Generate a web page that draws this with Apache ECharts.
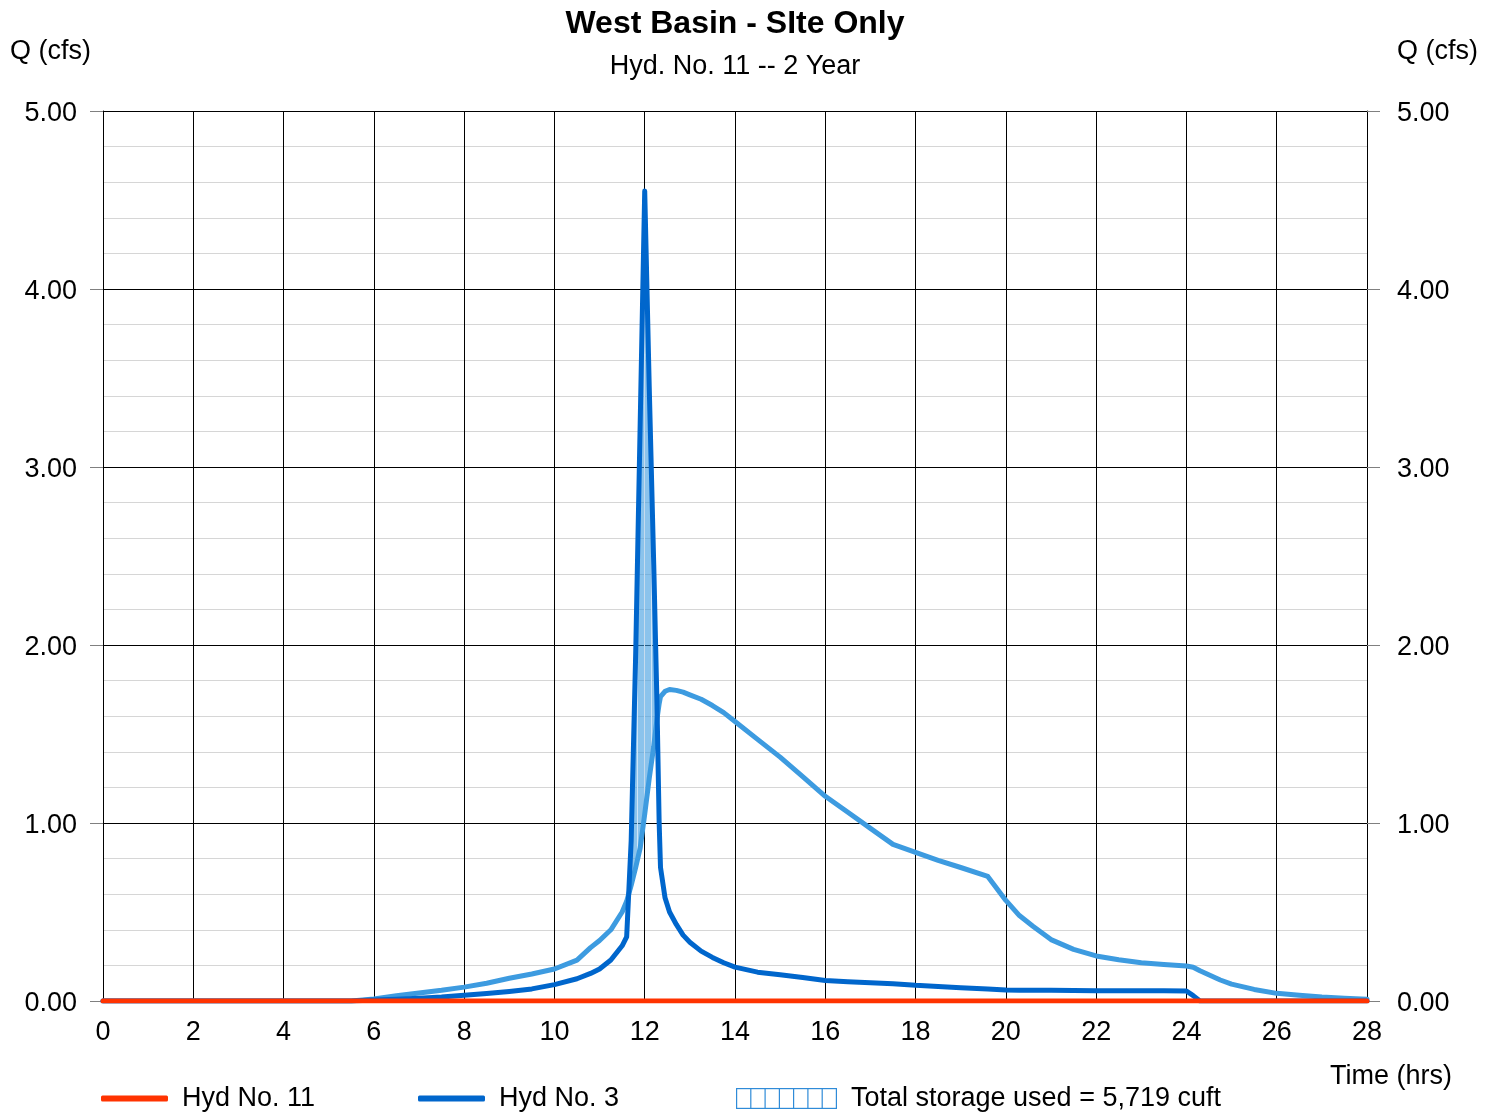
<!DOCTYPE html>
<html>
<head>
<meta charset="utf-8">
<title>West Basin - SIte Only</title>
<script src="https://cdn.jsdelivr.net/npm/echarts@6/dist/echarts.min.js"></script>
<style>
  html, body { margin: 0; padding: 0; background: #fff; }
  #chart { width: 1497px; height: 1112px; }
</style>
</head>
<body>
<div id="chart"></div>
<script>
const FONT = '"Liberation Sans", Arial, Helvetica, sans-serif';

// time (hrs) shared by both blue hydrographs
const hours = [
  0, 5.5, 6, 6.5, 7, 7.5, 8, 8.5, 9, 9.5,
  10, 10.5, 10.8, 11, 11.25, 11.5, 11.6, 11.7, 11.8, 11.9,
  12.0, 12.1, 12.2, 12.27, 12.32, 12.35, 12.45, 12.55, 12.7, 12.85,
  13, 13.25, 13.5, 13.75, 14, 14.5, 15, 15.5, 16, 16.5,
  17, 17.5, 18, 18.5, 19, 19.6, 20, 20.3, 20.6, 21,
  21.5, 22, 22.5, 23, 23.5, 24, 24.15, 24.3, 24.75, 25,
  25.5, 26, 26.5, 27, 27.5, 28
];

// Hyd No. 3 (dark blue)
const hyd3Flow = [
  0, 0, 0.005, 0.01, 0.016, 0.022, 0.032, 0.042, 0.054, 0.068,
  0.092, 0.125, 0.155, 0.18, 0.23, 0.31, 0.36, 0.9, 1.95, 3.25,
  4.55, 3.45, 2.45, 1.69, 1.0, 0.75, 0.58, 0.5, 0.43, 0.37,
  0.33, 0.28, 0.245, 0.215, 0.19, 0.162, 0.148, 0.132, 0.115, 0.108,
  0.102, 0.097, 0.088, 0.082, 0.075, 0.068, 0.062, 0.061, 0.06, 0.06,
  0.059, 0.058, 0.058, 0.057, 0.057, 0.056, 0.03, 0, 0, 0,
  0, 0, 0, 0, 0, 0
];

// light blue hydrograph
const routedFlow = [
  0, 0, 0.012, 0.03, 0.045, 0.06, 0.078, 0.1, 0.128, 0.152,
  0.18, 0.23, 0.3, 0.34, 0.4, 0.5, 0.56, 0.65, 0.75, 0.86,
  1.05, 1.25, 1.43, 1.58, 1.67, 1.71, 1.74, 1.75, 1.745, 1.735,
  1.72, 1.695, 1.66, 1.62, 1.57, 1.47, 1.37, 1.26, 1.15, 1.06,
  0.97, 0.88, 0.835, 0.79, 0.75, 0.7, 0.565, 0.48, 0.42, 0.345,
  0.29, 0.253, 0.232, 0.215, 0.205, 0.197, 0.19, 0.17, 0.118, 0.095,
  0.065, 0.043, 0.032, 0.022, 0.015, 0.01
];

// Hyd No. 11 (red) stays at zero
const hyd11Hours = [0, 28];
const hyd11Flow = [0, 0];

const STORAGE_LABEL = 'Total storage used = 5,719 cuft';

const pairs = (xs, ys) => xs.map((x, i) => [x, ys[i]]);

// outline of the band where Hyd No. 3 is above the light curve
const storageOutline = () => {
  const upper = [];
  const lower = [];

  for (let i = 0; i < hours.length - 1; i++) {
    const d0 = hyd3Flow[i] - routedFlow[i];
    const d1 = hyd3Flow[i + 1] - routedFlow[i + 1];

    if (d0 > 0) {
      upper.push([hours[i], hyd3Flow[i]]);
      lower.push([hours[i], routedFlow[i]]);
    }
    if ((d0 > 0) !== (d1 > 0)) {
      const f = d0 / (d0 - d1);
      const t = hours[i] + f * (hours[i + 1] - hours[i]);
      const q = hyd3Flow[i] + f * (hyd3Flow[i + 1] - hyd3Flow[i]);
      upper.push([t, q]);
      lower.push([t, q]);
    }
  }

  return upper.concat(lower.reverse());
};

const hatchFill = (() => {
  const c = document.createElement('canvas');
  c.width = 7;
  c.height = 10;
  const g = c.getContext('2d');
  g.fillStyle = 'rgba(61, 155, 224, 0.6)';
  g.fillRect(0, 0, 7, 10);
  g.fillStyle = 'rgba(215, 233, 250, 0.9)';
  g.fillRect(0, 0, 1, 10);
  return { image: c, repeat: 'repeat' };
})();

const hatchIcon = (() => {
  let lines = '';
  for (let k = 1; k < 7; k++) {
    const x = (0.5 + k * 100 / 7).toFixed(1);
    lines += `<line x1="${x}" y1="0" x2="${x}" y2="21" stroke="#2f8bd8" stroke-width="1.2"/>`;
  }
  const svg = '<svg xmlns="http://www.w3.org/2000/svg" width="101" height="21" viewBox="0 0 101 21">'
    + '<rect x="0.6" y="0.6" width="99.8" height="19.8" fill="#ffffff" stroke="#2f8bd8" stroke-width="1.2"/>'
    + lines + '</svg>';
  return 'image://data:image/svg+xml;charset=utf-8,' + encodeURIComponent(svg);
})();

const chartInstance = echarts.init(document.getElementById('chart'), null, { renderer: 'canvas' });

const labelStyle = { color: '#000', fontSize: 27, fontFamily: FONT };

const yAxisBase = {
  type: 'value',
  min: 0,
  max: 5,
  interval: 1,
  // thin line box hung from the tick so the digits sit a touch lower
  axisLabel: { ...labelStyle, verticalAlign: 'top', lineHeight: 5, formatter: (v) => v.toFixed(2) },
  axisTick: { show: true, inside: false, length: 13, lineStyle: { color: '#808080', width: 1 } },
  axisLine: { show: true, lineStyle: { color: '#000', width: 1 } },
  minorTick: { show: false, splitNumber: 5 },
  minorSplitLine: { show: true, lineStyle: { color: '#d6d6d6', width: 1 } }
};

const legendBase = {
  orient: 'horizontal',
  top: 1085,
  selectedMode: false,
  itemGap: 0,
  padding: 0,
  textStyle: { ...labelStyle, padding: [3, 0, 0, 9] }
};

chartInstance.setOption({
  animation: false,
  backgroundColor: '#fff',
  textStyle: { fontFamily: FONT },
  grid: { left: 103, right: 130, top: 111, bottom: 111, containLabel: false, outerBoundsMode: 'none' },
  xAxis: {
    type: 'value',
    min: 0,
    max: 28,
    interval: 2,
    axisLabel: { ...labelStyle, margin: 18 },
    axisTick: { show: false },
    axisLine: { show: true, lineStyle: { color: '#000', width: 1 } },
    splitLine: { show: true, lineStyle: { color: '#000', width: 1 } }
  },
  yAxis: [
    {
      ...yAxisBase,
      position: 'left',
      axisLabel: { ...yAxisBase.axisLabel, margin: 26 },
      splitLine: { show: true, lineStyle: { color: '#000', width: 1 } }
    },
    {
      ...yAxisBase,
      position: 'right',
      axisLabel: { ...yAxisBase.axisLabel, margin: 30 },
      splitLine: { show: false },
      minorSplitLine: { show: false }
    }
  ],
  legend: [
    {
      ...legendBase,
      left: 101,
      itemWidth: 67,
      itemHeight: 6,
      data: [{ name: 'Hyd No. 11', icon: 'roundRect', itemStyle: { color: '#ff3300' } }]
    },
    {
      ...legendBase,
      left: 418,
      itemWidth: 67,
      itemHeight: 6,
      data: [{ name: 'Hyd No. 3', icon: 'roundRect', itemStyle: { color: '#0066cc' } }]
    },
    {
      ...legendBase,
      left: 736,
      itemWidth: 101,
      itemHeight: 21,
      data: [{ name: STORAGE_LABEL, icon: hatchIcon }]
    }
  ],
  graphic: [
    {
      type: 'text', x: 735, y: 24,
      style: { text: 'West Basin - SIte Only', font: `bold 32px ${FONT}`, fill: '#000', align: 'center', verticalAlign: 'middle' }
    },
    {
      type: 'text', x: 735, y: 67,
      style: { text: 'Hyd. No. 11 -- 2 Year', font: `27px ${FONT}`, fill: '#000', align: 'center', verticalAlign: 'middle' }
    },
    {
      type: 'text', x: 10, y: 52,
      style: { text: 'Q (cfs)', font: `27px ${FONT}`, fill: '#000', align: 'left', verticalAlign: 'middle' }
    },
    {
      type: 'text', x: 1397, y: 52,
      style: { text: 'Q (cfs)', font: `27px ${FONT}`, fill: '#000', align: 'left', verticalAlign: 'middle' }
    },
    {
      type: 'text', x: 1452, y: 1077,
      style: { text: 'Time (hrs)', font: `27px ${FONT}`, fill: '#000', align: 'right', verticalAlign: 'middle' }
    }
  ],
  series: [
    {
      type: 'custom',
      name: STORAGE_LABEL,
      coordinateSystem: 'cartesian2d',
      data: [[12, 2]],
      z: 1,
      silent: true,
      itemStyle: { color: '#3d9be0' },
      renderItem: (params, api) => ({
        type: 'polygon',
        shape: { points: storageOutline().map((p) => api.coord(p)) },
        style: { fill: hatchFill, stroke: null }
      })
    },
    {
      type: 'line',
      name: 'routed',
      data: pairs(hours, routedFlow),
      symbol: 'none',
      z: 2,
      silent: true,
      lineStyle: { color: '#3d9be0', width: 5, cap: 'round', join: 'round' }
    },
    {
      type: 'line',
      name: 'Hyd No. 3',
      data: pairs(hours, hyd3Flow),
      symbol: 'none',
      z: 3,
      silent: true,
      itemStyle: { color: '#0066cc' },
      lineStyle: { color: '#0066cc', width: 5, cap: 'round', join: 'round' }
    },
    {
      type: 'line',
      name: 'Hyd No. 11',
      data: pairs(hyd11Hours, hyd11Flow),
      symbol: 'none',
      z: 4,
      silent: true,
      itemStyle: { color: '#ff3300' },
      lineStyle: { color: '#ff3300', width: 5, cap: 'round', join: 'round' }
    }
  ]
});

window.addEventListener('resize', () => chartInstance.resize());
</script>
</body>
</html>
